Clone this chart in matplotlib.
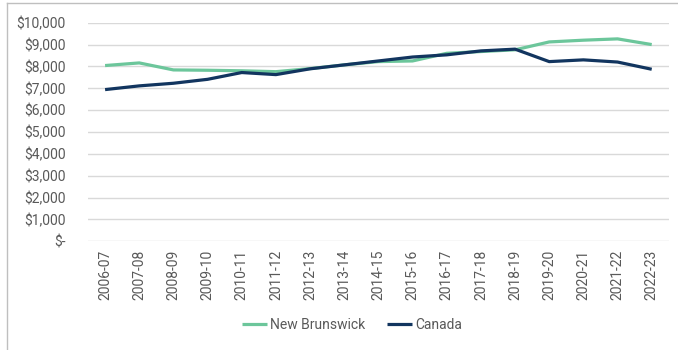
import matplotlib
matplotlib.use('Agg')
import matplotlib.pyplot as plt
from matplotlib.lines import Line2D
from matplotlib.ticker import FuncFormatter

# данные
years = ['2006-07', '2007-08', '2008-09', '2009-10', '2010-11', '2011-12',
         '2012-13', '2013-14', '2014-15', '2015-16', '2016-17', '2017-18',
         '2018-19', '2019-20', '2020-21', '2021-22', '2022-23']
new_brunswick = [8040, 8160, 7840, 7825, 7800, 7760, 7900, 8070, 8220, 8250,
                 8600, 8680, 8760, 9120, 9200, 9260, 9000]
canada = [6940, 7110, 7230, 7410, 7720, 7625, 7890, 8070, 8250, 8430,
          8530, 8710, 8790, 8220, 8300, 8200, 7870]

plt.rcParams['font.family'] = ['Roboto', 'DejaVu Sans']
txt = '#595959'

fig = plt.figure(figsize=(6.78, 3.5), dpi=100)
ax = fig.add_axes([88 / 678, 1 - 241.3 / 350, 580.8 / 678, 218.6 / 350])

x = range(len(years))
ax.plot(x, new_brunswick, color='#6cc69b', lw=2.3, label='New Brunswick', solid_capstyle='butt')
ax.plot(x, canada, color='#12355f', lw=2.3, label='Canada', solid_capstyle='butt')

ax.set_xlim(-0.5, len(years) - 0.5)
ax.set_ylim(0, 10000)
ax.set_yticks(range(0, 10001, 1000))
ax.yaxis.set_major_formatter(FuncFormatter(lambda v, p: '$-' if v == 0 else f'${v:,.0f}'))
ax.set_xticks(list(x))
ax.set_xticklabels(years, rotation=90)

ax.grid(axis='y', color='#d9d9d9', lw=1)
ax.set_axisbelow(True)
for s in ax.spines.values():
    s.set_visible(False)
ax.tick_params(axis='both', length=0, colors=txt, labelsize=10)
ax.tick_params(axis='y', pad=16)
ax.tick_params(axis='x', pad=6)

fig.legend(loc='center', bbox_to_anchor=(352 / 678, 1 - 325 / 350), ncol=2, frameon=False,
           fontsize=10, handlelength=1.8, handletextpad=0.2, columnspacing=1.6,
           labelcolor=txt)

# рамка как на исходнике (слева и сверху)
fig.add_artist(Line2D([7 / 678, 7 / 678], [0, 1 - 3 / 350], transform=fig.transFigure, color='#bfbfbf', lw=1))
fig.add_artist(Line2D([7 / 678, 1], [1 - 3 / 350, 1 - 3 / 350], transform=fig.transFigure, color='#bfbfbf', lw=1))

fig.savefig('out.png', dpi=100)
